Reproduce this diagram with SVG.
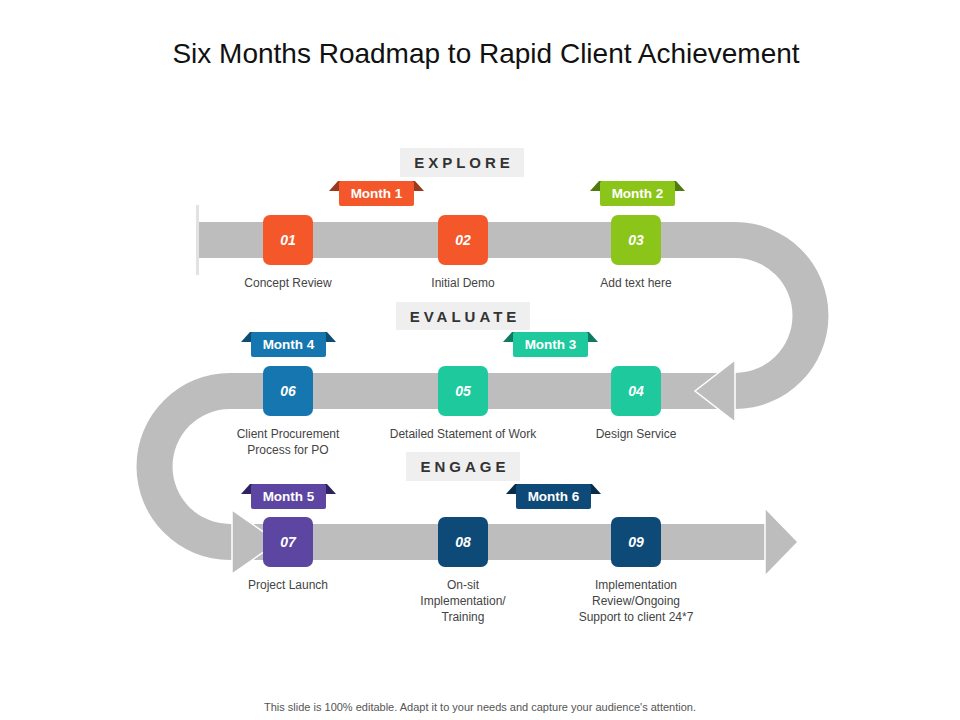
<svg xmlns="http://www.w3.org/2000/svg" width="960" height="720" viewBox="0 0 960 720">
<defs>
<style>
text{font-family:"Liberation Sans",Arial,sans-serif}
.title{font-size:28px;fill:#111}
.num{font-size:14px;font-weight:bold;font-style:italic;fill:#fff}
.lab{font-size:12px;fill:#444}
.mon{font-size:13.5px;font-weight:bold;fill:#fff}
.sec{font-size:15px;font-weight:bold;fill:#333;letter-spacing:4px}
.secbox{fill:#efefef}
.band{fill:#bdbdbd}
.head{fill:#bdbdbd;stroke:#fff;stroke-width:1.5}
</style>
</defs>
<rect width="960" height="720" fill="#fff"/>
<text class="title" x="486" y="63" text-anchor="middle">Six Months Roadmap to Rapid Client Achievement</text>
<g id="road">
<path class="band" d="M198,222 H735 A93.5,93.5 0 0 1 735,409 V373 A57.5,57.5 0 0 0 735,258 H198 Z"/>
<path class="band" d="M736,373 H230 A93.5,93.5 0 0 0 230,560 V524 A57.5,57.5 0 0 1 230,409 H736 Z"/>
<rect class="band" x="229" y="524" width="537" height="36"/>
<path class="head" d="M735,360 L695,391 L735,422 Z"/>
<path class="head" d="M765,508 L798,542 L765,576 Z"/>
<path class="head" d="M232,510 L278,542 L232,574 Z"/>
<rect x="196" y="205" width="3" height="70" fill="#e2e2e2"/>
</g>
<g id="sections">
<rect class="secbox" x="400" y="148" width="124" height="29"/><text class="sec" x="464" y="168" text-anchor="middle">EXPLORE</text>
<rect class="secbox" x="396" y="302" width="134" height="28"/><text class="sec" x="465" y="322" text-anchor="middle">EVALUATE</text>
<rect class="secbox" x="406" y="452" width="114" height="29"/><text class="sec" x="465" y="472" text-anchor="middle">ENGAGE</text>
</g>
<g id="n01"><rect x="263" y="215" width="50" height="50" rx="7" fill="#f4582a"/><text class="num" x="288" y="245" text-anchor="middle">01</text><text class="lab" x="288" y="287" text-anchor="middle">Concept Review</text></g>
<g id="n02"><rect x="438" y="215" width="50" height="50" rx="7" fill="#f4582a"/><text class="num" x="463" y="245" text-anchor="middle">02</text><text class="lab" x="463" y="287" text-anchor="middle">Initial Demo</text></g>
<g id="n03"><rect x="611" y="215" width="50" height="50" rx="7" fill="#8cc51a"/><text class="num" x="636" y="245" text-anchor="middle">03</text><text class="lab" x="636" y="287" text-anchor="middle">Add text here</text></g>
<g id="n04"><rect x="611" y="366" width="50" height="50" rx="7" fill="#1ec99e"/><text class="num" x="636" y="396" text-anchor="middle">04</text><text class="lab" x="636" y="438" text-anchor="middle">Design Service</text></g>
<g id="n05"><rect x="438" y="366" width="50" height="50" rx="7" fill="#1ec99e"/><text class="num" x="463" y="396" text-anchor="middle">05</text><text class="lab" x="463" y="438" text-anchor="middle">Detailed Statement of Work</text></g>
<g id="n06"><rect x="263" y="366" width="50" height="50" rx="7" fill="#1677b0"/><text class="num" x="288" y="396" text-anchor="middle">06</text><text class="lab" x="288" y="438" text-anchor="middle">Client Procurement</text><text class="lab" x="288" y="454" text-anchor="middle">Process for PO</text></g>
<g id="n07"><rect x="263" y="517" width="50" height="50" rx="7" fill="#5d45a2"/><text class="num" x="288" y="547" text-anchor="middle">07</text><text class="lab" x="288" y="589" text-anchor="middle">Project Launch</text></g>
<g id="n08"><rect x="438" y="517" width="50" height="50" rx="7" fill="#0e4a78"/><text class="num" x="463" y="547" text-anchor="middle">08</text><text class="lab" x="463" y="589" text-anchor="middle">On-sit</text><text class="lab" x="463" y="605" text-anchor="middle">Implementation/</text><text class="lab" x="463" y="621" text-anchor="middle">Training</text></g>
<g id="n09"><rect x="611" y="517" width="50" height="50" rx="7" fill="#0e4a78"/><text class="num" x="636" y="547" text-anchor="middle">09</text><text class="lab" x="636" y="589" text-anchor="middle">Implementation</text><text class="lab" x="636" y="605" text-anchor="middle">Review/Ongoing</text><text class="lab" x="636" y="621" text-anchor="middle">Support to client 24*7</text></g>
<g id="m1"><path d="M329,191 L338,181 H415 L424,191 Z" fill="#9a3a1c"/><rect x="339" y="181" width="75" height="25" rx="2" fill="#f4582a"/><text class="mon" x="376.5" y="198" text-anchor="middle">Month 1</text></g>
<g id="m2"><path d="M590,191 L599,181 H676 L685,191 Z" fill="#4f7a0e"/><rect x="600" y="181" width="75" height="25" rx="2" fill="#8cc51a"/><text class="mon" x="637.5" y="198" text-anchor="middle">Month 2</text></g>
<g id="m4"><path d="M241,342 L250,332 H327 L336,342 Z" fill="#0d4c73"/><rect x="251" y="332" width="75" height="25" rx="2" fill="#1677b0"/><text class="mon" x="288.5" y="349" text-anchor="middle">Month 4</text></g>
<g id="m3"><path d="M503,342 L512,332 H589 L598,342 Z" fill="#0f7a60"/><rect x="513" y="332" width="75" height="25" rx="2" fill="#1ec99e"/><text class="mon" x="550.5" y="349" text-anchor="middle">Month 3</text></g>
<g id="m5"><path d="M241,494 L250,484 H327 L336,494 Z" fill="#2f2260"/><rect x="251" y="484" width="75" height="25" rx="2" fill="#5d45a2"/><text class="mon" x="288.5" y="501" text-anchor="middle">Month 5</text></g>
<g id="m6"><path d="M506,494 L515,484 H592 L601,494 Z" fill="#072c4a"/><rect x="516" y="484" width="75" height="25" rx="2" fill="#0e4a78"/><text class="mon" x="553.5" y="501" text-anchor="middle">Month 6</text></g>
<text x="480" y="711" font-size="11" fill="#555" text-anchor="middle">This slide is 100% editable. Adapt it to your needs and capture your audience's attention.</text>
</svg>
